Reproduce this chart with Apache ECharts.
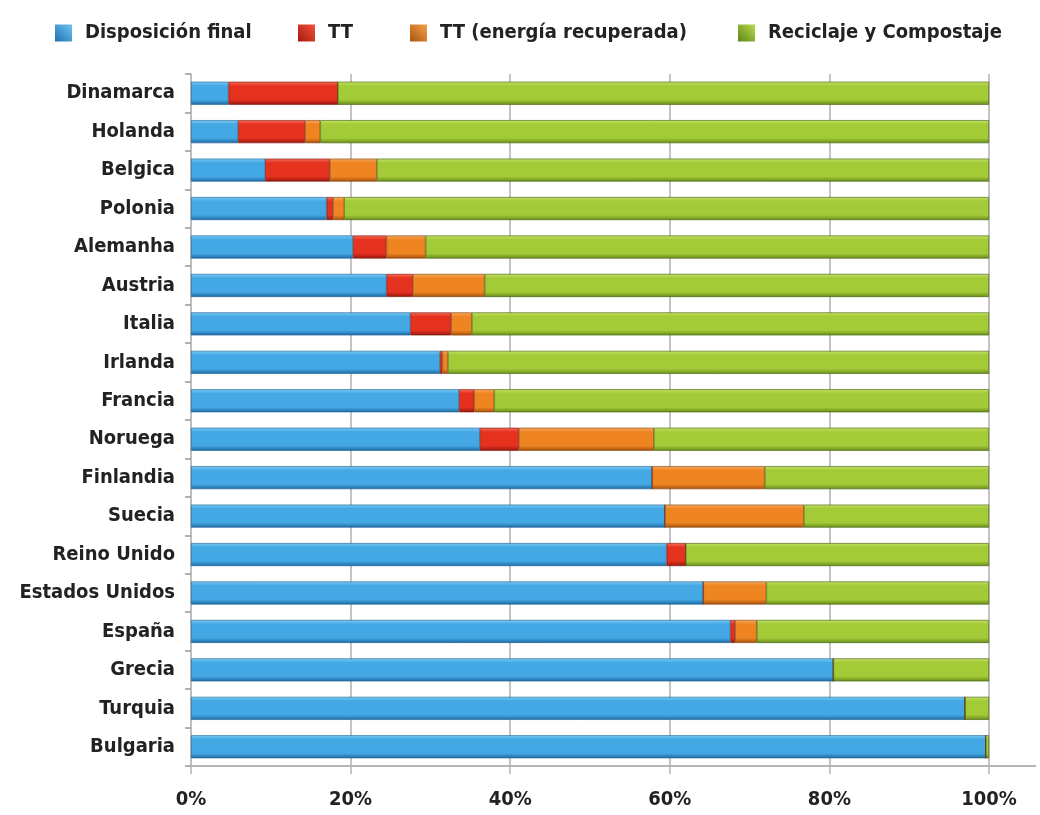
<!DOCTYPE html>
<html>
<head>
<meta charset="utf-8">
<script src="https://cdn.jsdelivr.net/npm/echarts@6/dist/echarts.min.js"></script>
<style>
  html, body { margin: 0; padding: 0; background: #ffffff; }
  #chart { width: 1040px; height: 815px; }
</style>
</head>
<body>
<div id="chart"></div>
<script>
// Países, de arriba abajo
const countries = ['Dinamarca', 'Holanda', 'Belgica', 'Polonia', 'Alemanha', 'Austria', 'Italia',
  'Irlanda', 'Francia', 'Noruega', 'Finlandia', 'Suecia', 'Reino Unido', 'Estados Unidos',
  'España', 'Grecia', 'Turquia', 'Bulgaria'];

// Reparto del tratamiento de residuos (%)
const disposicionFinal = [4.7, 5.9, 9.3, 17.0, 20.3, 24.5, 27.5, 31.2, 33.6, 36.2, 57.8, 59.4, 59.6, 64.2, 67.6, 80.5, 97.0, 99.6];
const tt              = [13.7, 8.4, 8.1, 0.8, 4.2, 3.3, 5.1, 0.3, 1.9, 4.9, 0, 0, 2.4, 0, 0.6, 0, 0, 0];
const ttEnergia       = [0, 1.9, 5.9, 1.4, 4.9, 9.0, 2.6, 0.7, 2.5, 16.9, 14.1, 17.4, 0, 7.9, 2.7, 0, 0, 0];
const reciclaje       = [81.6, 83.8, 76.7, 80.8, 70.6, 63.2, 64.8, 67.8, 62.0, 42.0, 28.1, 23.2, 38.0, 27.9, 29.1, 19.5, 3.0, 0.4];

const seriesNames = ['Disposición final', 'TT', 'TT (energía recuperada)', 'Reciclaje y Compostaje'];
const xTicks = [0, 20, 40, 60, 80, 100];

const FONT = '"Liberation Sans Narrow", "DejaVu Sans Condensed", "Arial Narrow", sans-serif';
const TEXT = { fontFamily: FONT, fontWeight: 'bold', fontSize: 20, color: '#222' };

// Degradado vertical para dar aspecto de barra en relieve
function shade(top, mid, bottom) {
  return new echarts.graphic.LinearGradient(0, 0, 0, 1, [
    { offset: 0, color: top },
    { offset: 0.18, color: mid },
    { offset: 0.78, color: mid },
    { offset: 1, color: bottom }
  ]);
}
const palette = [
  shade('#7cccf4', '#44a8e4', '#1d6aa3'),
  shade('#f5705c', '#e5321f', '#98170d'),
  shade('#f7ab62', '#ef8521', '#a5520e'),
  shade('#c4e264', '#a3cb38', '#688c18')
];
const edge = ['#1a5e92', '#7a1208', '#7e3e08', '#3f5a0c'];

// iconos de la leyenda: degradado diagonal, sin borde
function iconShade(light, dark) {
  return new echarts.graphic.LinearGradient(1, 0, 0, 1, [
    { offset: 0, color: light },
    { offset: 1, color: dark }
  ]);
}
const legendIcons = [
  iconShade('#6fc4f2', '#1f72ad'),
  iconShade('#f2523c', '#a8190e'),
  iconShade('#f6a04c', '#a9560f'),
  iconShade('#b9dc4c', '#5f8414')
];

const dataSets = [disposicionFinal, tt, ttEnergia, reciclaje];

// una leyenda por serie, cada una en su sitio a lo largo de la fila superior
const legendLeft = [50, 293, 405, 733];
const legends = seriesNames.map((name, i) => ({
  top: 18,
  left: legendLeft[i],
  itemWidth: 17,
  itemHeight: 17,
  icon: 'rect',
  itemStyle: { color: legendIcons[i], borderWidth: 0 },
  textStyle: Object.assign({ padding: [0, 0, 0, 8] }, TEXT),
  data: [name]
}));

const chart = echarts.init(document.getElementById('chart'), null, { renderer: 'canvas' });

chart.setOption({
  backgroundColor: '#ffffff',
  animation: false,
  legend: legends,
  grid: { left: 191, right: 51, top: 74, bottom: 49, containLabel: false },
  xAxis: {
    type: 'value',
    min: 0,
    max: 100,
    interval: 20,
    axisLine: { show: true, lineStyle: { color: '#b5b5b5', width: 2 } },
    axisTick: { show: true, length: 8, lineStyle: { color: '#b5b5b5', width: 1.5 } },
    splitLine: { show: true, lineStyle: { color: '#b0b0b0', width: 1.5 } },
    axisLabel: Object.assign({
      margin: 24,
      formatter: v => (xTicks.indexOf(v) >= 0 ? v + '%' : '')
    }, TEXT)
  },
  yAxis: {
    type: 'category',
    inverse: true,
    data: countries,
    axisLine: { show: true, lineStyle: { color: '#bdbdbd', width: 1.5 } },
    axisTick: { show: true, length: 6, lineStyle: { color: '#999', width: 1.5 } },
    axisLabel: Object.assign({ margin: 16 }, TEXT)
  },
  graphic: [
    // prolongación de la línea base hacia la derecha
    { type: 'line', shape: { x1: 989, y1: 766, x2: 1036, y2: 766 }, style: { stroke: '#b5b5b5', lineWidth: 2 } }
  ],
  series: seriesNames.map((name, i) => ({
    name,
    type: 'bar',
    stack: 'total',
    barWidth: 23,
    data: dataSets[i],
    itemStyle: { color: palette[i], borderColor: edge[i], borderWidth: 0.6 }
  }))
});
</script>
</body>
</html>
